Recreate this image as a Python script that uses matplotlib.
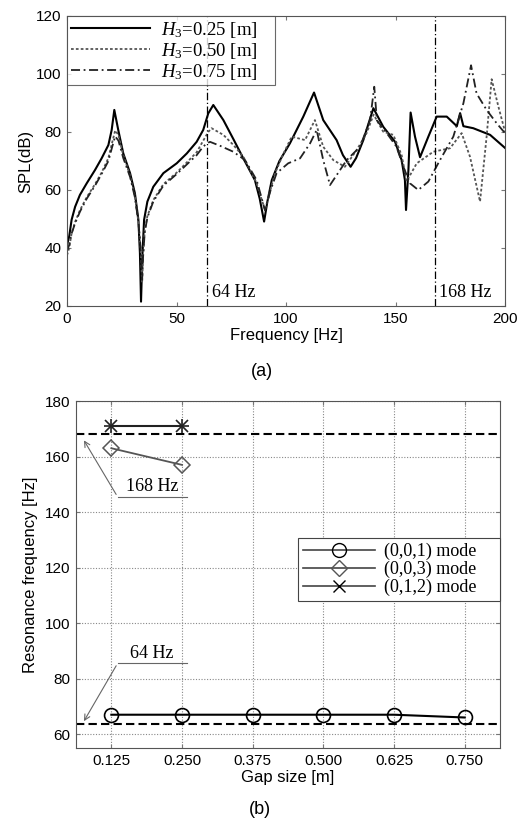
import numpy as np
import matplotlib
matplotlib.use("Agg")
import matplotlib.pyplot as plt
from matplotlib.lines import Line2D

plt.rcParams['font.family'] = ['Liberation Sans', 'DejaVu Sans']
plt.rcParams['mathtext.fontset'] = 'custom'
plt.rcParams['mathtext.rm'] = 'Liberation Serif'
plt.rcParams['mathtext.it'] = 'Liberation Serif:italic'
plt.rcParams['xtick.direction'] = 'in'
plt.rcParams['ytick.direction'] = 'in'

# ---- (a) SPL spectra ----
f_025 = [0, 1, 2.1, 3.7, 5.9, 9, 12.8, 15.8, 18.9, 20.4, 21.6, 23.4, 25.7, 28.8, 31, 32.6, 33.3,
         33.8, 34.4, 35.2, 36.7, 39.4, 44, 50.1, 54.7, 59.2, 62.2, 64.5,
         66.8, 71.4, 76, 80.5, 85.8, 88, 90, 91.5, 93.5, 97, 101.8, 107.9, 112.8, 117, 123.1,
         126, 129.5, 132, 135.3, 139.9, 144.4, 149.8, 152.8, 154.3, 154.8, 155.9, 156.9,
         158.9, 161.2, 165, 168.8, 173.4, 178, 179.5, 181, 185.5, 193.2, 200]
spl_025 = [41, 44, 49.7, 54.2, 58.3, 62.3, 66.9, 70.9, 75.5, 80.7, 87.6, 80.7, 72.6, 65.8, 58.9,
           49.7, 38.2, 21.5, 37, 49.7, 56, 61.1, 65.8, 69.2, 72.6, 76.6, 80.7, 86.4,
           89.3, 84.1, 77.5, 70.9, 63.4, 57, 49.1, 56, 63.4, 70, 76.1, 85.3, 93.6, 84.1, 77.2,
           72, 68, 71, 77.2, 88.2, 81.8, 76.6, 70.3, 63.4, 53.1, 66.9, 86.7,
           78.4, 71.3, 78.4, 85.3, 85.3, 82, 86.5, 82, 81.3, 79, 74.5]

f_050 = [0, 1, 2.1, 3.7, 5.9, 9, 12.8, 15.8, 18.9, 20.5, 22, 23.5, 25.7, 28.8, 31, 32.6, 33.6,
         34.3, 34.8, 35.5, 36.7, 39.4, 44, 50.1, 54.7, 59.2, 62.2, 64.5,
         66, 71.4, 76, 80.5, 86.6, 90.4, 92.5, 95, 98.5, 102.6, 108.7, 113.2, 117, 121.6, 126.9,
         132.3, 136.8, 140, 144.4, 149, 152.8, 155.1, 159.7, 167.3, 174.9, 180.2, 184,
         188.6, 191.6, 193.9, 197, 200]
spl_050 = [37.5, 40, 45, 49, 53, 57.5, 62, 66, 71, 76, 80.5, 79, 72, 65, 58, 49, 40,
           28, 38, 46, 51, 56.5, 62, 66, 69.5, 73, 77, 80,
           81.3, 79, 75.5, 71.5, 62.3, 53.1, 59, 65.8, 72, 78.4, 77.2, 84.1, 74.9, 70.3, 68,
           73.8, 79.6, 86, 80.1, 79, 72, 63, 69.2, 73.2, 74.4, 79.6, 71.5,
           56, 78.4, 98.2, 88.7, 80.1]

f_075 = [0, 1, 2.1, 3.7, 5.9, 9, 12.8, 15.8, 18.9, 20.5, 22, 23.5, 25.7, 28.8, 31, 32.6, 33.6,
         34.3, 34.8, 35.5, 36.7, 39.4, 44, 50.1, 54.7, 59.2, 62.2, 64.5,
         65.3, 70, 75.9, 81.3, 86.6, 90.4, 92.8, 95.7, 101, 106.4, 111, 114, 117, 120.1, 124.7,
         127.7, 133.8, 138.4, 140.3, 141.5, 146, 150.4, 153.6, 156.6, 160.4, 165,
         170.3, 176.4, 181, 184.5, 187, 191.6, 196.2, 200]
spl_075 = [39, 41, 45, 48.5, 52.5, 57, 61.5, 65.5, 70, 74.5, 78.5, 77, 71, 64.5, 57.5, 49, 40,
           29, 38, 45.5, 50.5, 56, 61.5, 65.5, 68.8, 72, 75, 76.3,
           76.6, 75.2, 73.2, 70.3, 63.4, 53, 59.5, 65.8, 69.2, 70.9, 76.1, 80.7, 70.3, 61.7, 66.9,
           70.3, 74.9, 84.1, 95.6, 84, 79.6, 75, 68, 62.3, 60, 62.9,
           70.3, 78.4, 89.9, 103, 93.3, 87.6, 83, 79.6]

mark_64 = 64
mark_168 = 168

# ---- (b) resonance frequency vs gap size ----
gap = [0.125, 0.250, 0.375, 0.500, 0.625, 0.750]
mode_001 = [67, 67, 67, 67, 67, 66]
gap_003 = [0.125, 0.250]
mode_003 = [163, 157]
gap_012 = [0.125, 0.250]
mode_012 = [171, 171]
ref_hi = 168
ref_lo = 63.5

fig = plt.figure(figsize=(5.21, 8.23), dpi=100)

# (a)
ax1 = fig.add_axes([0.1286, 0.6282, 0.8407, 0.3524])
ax1.plot(f_025, spl_025, color='black', lw=1.5, label=r'$\mathit{H}_{\mathit{3}}$=0.25 [m]')
ax1.plot(f_050, spl_050, color='#555555', lw=1.3, ls=(0, (1.5, 1.2)),
         label=r'$\mathit{H}_{\mathit{3}}$=0.50 [m]')
ax1.plot(f_075, spl_075, color='#222222', lw=1.3, ls=(0, (5, 2, 1, 2)),
         label=r'$\mathit{H}_{\mathit{3}}$=0.75 [m]')
for fm in (mark_64, mark_168):
    ax1.axvline(fm, color='black', lw=0.9, ls=(0, (6, 2, 1, 2)))
ax1.text(mark_64 + 2, 23, '64 Hz', family='Liberation Serif', fontsize=13)
ax1.text(mark_168 + 2, 23, '168 Hz', family='Liberation Serif', fontsize=13)
ax1.set_xlim(0, 200)
ax1.set_ylim(20, 120)
ax1.set_xticks([0, 50, 100, 150, 200])
ax1.set_yticks([20, 40, 60, 80, 100, 120])
ax1.tick_params(labelsize=11, top=True, right=True, length=3, pad=4, color='#777777')
for s in ax1.spines.values():
    s.set_color('#555555')
ax1.set_xlabel('Frequency [Hz]', fontsize=12, labelpad=2)
ax1.set_ylabel('SPL(dB)', fontsize=12, labelpad=2)
leg1 = ax1.legend(loc='upper left', bbox_to_anchor=(0, 0, 0.475, 1), mode='expand',
                  prop={'family': 'Liberation Serif', 'size': 13.5},
                  handlelength=4.2, labelspacing=0.05, borderaxespad=0, borderpad=0.2,
                  handletextpad=0.6, frameon=True, fancybox=False)
leg1.get_frame().set_edgecolor('#444444')
leg1.get_frame().set_linewidth(0.8)
fig.text(0.503, 0.548, '(a)', ha='center', va='center', fontsize=13)

# (b)
ax2 = fig.add_axes([0.1459, 0.0911, 0.8138, 0.4216])
ax2.grid(True, ls=(0, (1, 1.5)), color='#888888', lw=0.8)
ax2.axhline(ref_hi, color='black', lw=1.5, ls=(0, (4, 2)))
ax2.axhline(ref_lo, color='black', lw=1.5, ls=(0, (4, 2)))
ax2.plot(gap, mode_001, color='black', lw=1.5, marker='o', ms=10, mfc='none', mew=1.2)
ax2.plot(gap_003, mode_003, color='#555555', lw=1.3, marker='D', ms=8, mfc='none', mew=1.1)
ax2.plot(gap_012, mode_012, color='#222222', lw=1.5, marker='+', ms=10, mew=1.2)
ax2.plot(gap_012, mode_012, color='#222222', lw=0, marker='x', ms=8, mew=1.2)

# annotation leaders
for label, ty, ay in (('168 Hz', 145.5, 166.7), ('64 Hz', 85.5, 63.8)):
    ax2.plot([0.136, 0.2585], [ty, ty], color='#666666', lw=0.8)
    ax2.annotate('', xy=(0.074, ay), xytext=(0.136, ty),
                 arrowprops=dict(arrowstyle='->', color='#666666', lw=0.8))
    ax2.text(0.197, ty + 0.6, label, ha='center', va='bottom',
             family='Liberation Serif', fontsize=13)

ax2.set_xlim(0.0625, 0.8125)
ax2.set_ylim(55, 180)
ax2.set_xticks(gap)
ax2.set_xticklabels(['0.125', '0.250', '0.375', '0.500', '0.625', '0.750'])
ax2.set_yticks([60, 80, 100, 120, 140, 160, 180])
ax2.tick_params(labelsize=11, top=True, right=True, length=3, pad=4, color='#777777')
for s in ax2.spines.values():
    s.set_color('#555555')
ax2.set_xlabel('Gap size [m]', fontsize=12, labelpad=2)
ax2.set_ylabel('Resonance frequency [Hz]', fontsize=12, labelpad=5)

handles = [Line2D([], [], color='#444444', lw=1.2, marker='o', ms=10, mfc='none', mec='black'),
           Line2D([], [], color='#444444', lw=1.2, marker='D', ms=8, mfc='none', mec='#555555'),
           Line2D([], [], color='#444444', lw=1.2, marker='x', ms=9, mec='black')]
leg2 = ax2.legend(handles, ['(0,0,1) mode', '(0,0,3) mode', '(0,1,2) mode'],
                  loc='lower left', bbox_to_anchor=(0.524, 0.424, 0.476, 0.181), mode='expand',
                  prop={'family': 'Liberation Serif', 'size': 13}, handlelength=4.0,
                  labelspacing=0.05, borderaxespad=0, borderpad=0.25, handletextpad=0.5,
                  frameon=True, fancybox=False, framealpha=1)
leg2.get_frame().set_edgecolor('#444444')
leg2.get_frame().set_linewidth(0.8)
fig.text(0.499, 0.016, '(b)', ha='center', va='center', fontsize=13)

fig.savefig('out.png', dpi=100)
